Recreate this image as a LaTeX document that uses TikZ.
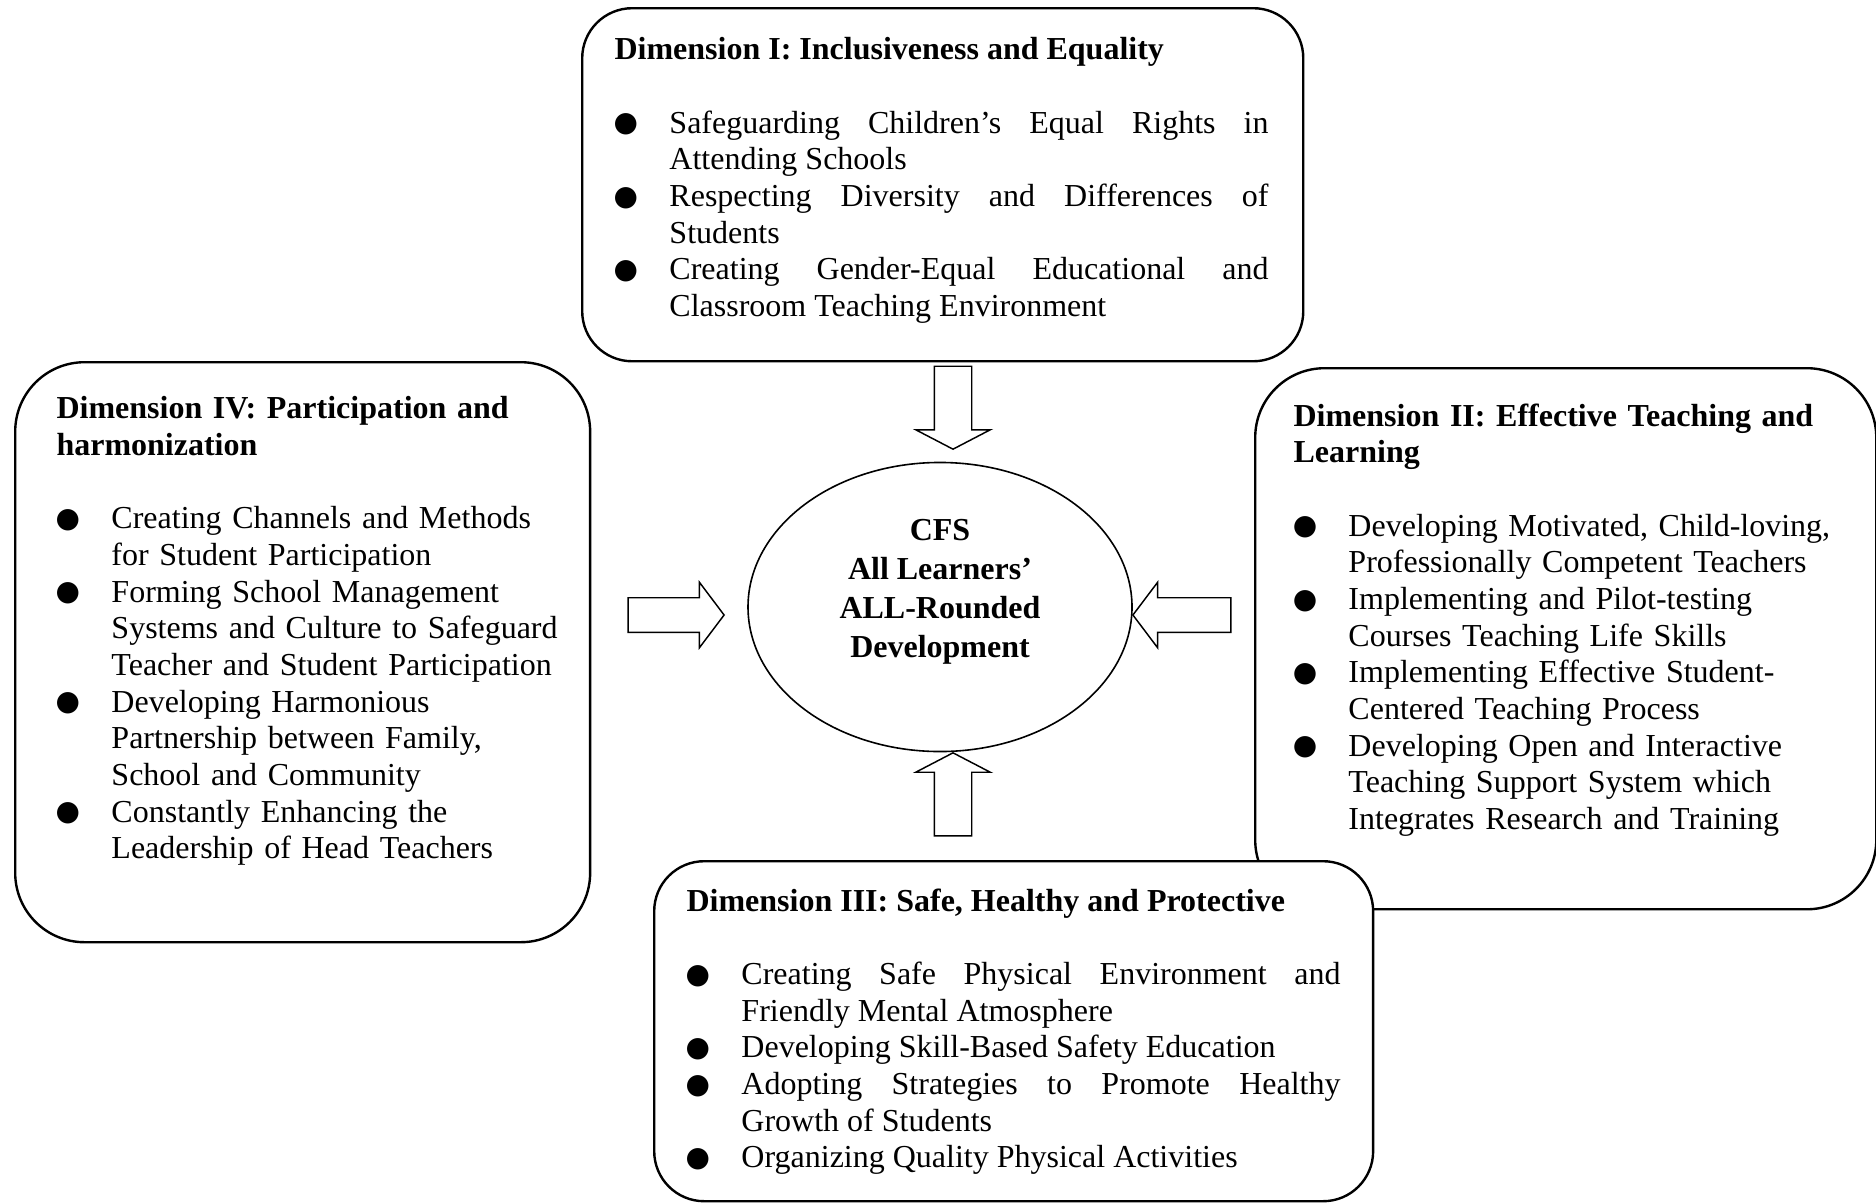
\documentclass[tikz,border=0pt]{standalone}
\usepackage{fontspec}
\setmainfont{Liberation Serif}
\newfontfamily\bulletfont{DejaVu Sans}
\usetikzlibrary{shapes.geometric,shapes.arrows}

\newcommand{\dimbullet}{\hskip-0.3pt\raisebox{0.5pt}{\bulletfont\fontsize{10.5}{10.5}\selectfont ●}}
\newcommand{\dimlabel}[1]{#1\hfil}
\newenvironment{dimlist}{\begin{list}{\dimbullet}{%
  \setlength{\leftmargin}{20.6pt}\setlength{\labelwidth}{20.6pt}%
  \setlength{\labelsep}{0pt}\setlength{\itemsep}{0pt}\setlength{\parsep}{0pt}%
  \setlength{\topsep}{0pt}\setlength{\partopsep}{0pt}\let\makelabel\dimlabel}}%
  {\end{list}}
\hbadness=10000

\begin{document}
\begin{tikzpicture}[x=0.375pt, y=-0.375pt,
  dimbox/.style={draw, line width=0.9pt, fill=white, inner sep=0pt, anchor=north west},
  dimtext/.style={inner sep=0pt, anchor=north west, font=\fontsize{12}{13.75}\selectfont},
  blockarrow/.style={draw, fill=white, single arrow, line width=0.55pt, inner xsep=0pt}]
\useasboundingbox (0,0) rectangle (1876,1203);
%
\node[dimbox, rounded corners=26pt, minimum width=232.9pt, minimum height=202.9pt] (dimII) at (1254,367) {};
\node[dimbox, rounded corners=18.75pt, minimum width=269.6pt, minimum height=127.5pt] (dimIII) at (653,860) {};
\node[dimbox, rounded corners=18.75pt, minimum width=270.4pt, minimum height=132.4pt] (dimI) at (581,7) {};
\node[dimbox, rounded corners=26pt, minimum width=215.6pt, minimum height=217.5pt] (dimIV) at (14,361) {};
%
\node[dimtext, text width=245.25pt, align=justify] (dimItext) at (614,37) {%
\textbf{Dimension I: Inclusiveness and Equality}\par\vspace{13.75pt}
\begin{dimlist}
\item Safeguarding Children’s Equal Rights in\linebreak Attending Schools
\item Respecting Diversity and Differences of\linebreak Students
\item Creating Gender-Equal Educational and\linebreak Classroom Teaching Environment
\end{dimlist}};
%
\node[dimtext, text width=195pt, align=left] (dimIVtext) at (56,396) {%
\textbf{Dimension IV: Participation and\\ harmonization}\par\vspace{13.75pt}
\begin{dimlist}
\item Creating Channels and Methods\\ for Student Participation
\item Forming School Management\\ Systems and Culture to Safeguard\\ Teacher and Student Participation
\item Developing Harmonious\\ Partnership between Family,\\ School and Community
\item Constantly Enhancing the\\ Leadership of Head Teachers
\end{dimlist}};
%
\node[dimtext, text width=213pt, align=left] (dimIItext) at (1293,403) {%
\textbf{Dimension II: Effective Teaching and\\ Learning}\par\vspace{13.75pt}
\begin{dimlist}
\item Developing Motivated, Child-loving,\\ Professionally Competent Teachers
\item Implementing and Pilot-testing\\ Courses Teaching Life Skills
\item Implementing Effective Student-\\ Centered Teaching Process
\item Developing Open and Interactive\\ Teaching Support System which\\ Integrates Research and Training
\end{dimlist}};
%
\node[dimtext, text width=245.25pt, align=justify] (dimIIItext) at (686,888) {%
\textbf{Dimension III: Safe, Healthy and Protective}\par\vspace{13.75pt}
\begin{dimlist}
\item Creating Safe Physical Environment and\linebreak Friendly Mental Atmosphere
\item Developing Skill-Based Safety Education
\item Adopting Strategies to Promote Healthy\linebreak Growth of Students
\item Organizing Quality Physical Activities
\end{dimlist}};
%
\node[draw, ellipse, line width=0.6pt, inner sep=0pt, minimum width=144pt, minimum height=108.4pt] (cfs) at (940,607) {};
\node[align=center, inner sep=0pt, font=\fontsize{12}{14.6}\selectfont\bfseries] (cfslabel) at (940,592)
  {CFS\\ All Learners’\\ ALL-Rounded\\ Development};
%
\node[blockarrow, inner ysep=6.75pt, single arrow head extend=6.95pt, single arrow tip angle=125,
  minimum height=31.1pt, rotate=-90, anchor=tip] (arrI) at (953,450) {};
\node[blockarrow, inner ysep=6.75pt, single arrow head extend=6.95pt, single arrow tip angle=125,
  minimum height=31.1pt, rotate=90, anchor=tip] (arrIII) at (953,752) {};
\node[blockarrow, inner ysep=6.2pt, single arrow head extend=5.8pt, single arrow tip angle=106,
  minimum height=36pt, anchor=tip] (arrIV) at (725,615) {};
\node[blockarrow, inner ysep=6.2pt, single arrow head extend=5.8pt, single arrow tip angle=106,
  minimum height=36.75pt, rotate=180, anchor=tip] (arrII) at (1132,615) {};
\end{tikzpicture}
\end{document}
